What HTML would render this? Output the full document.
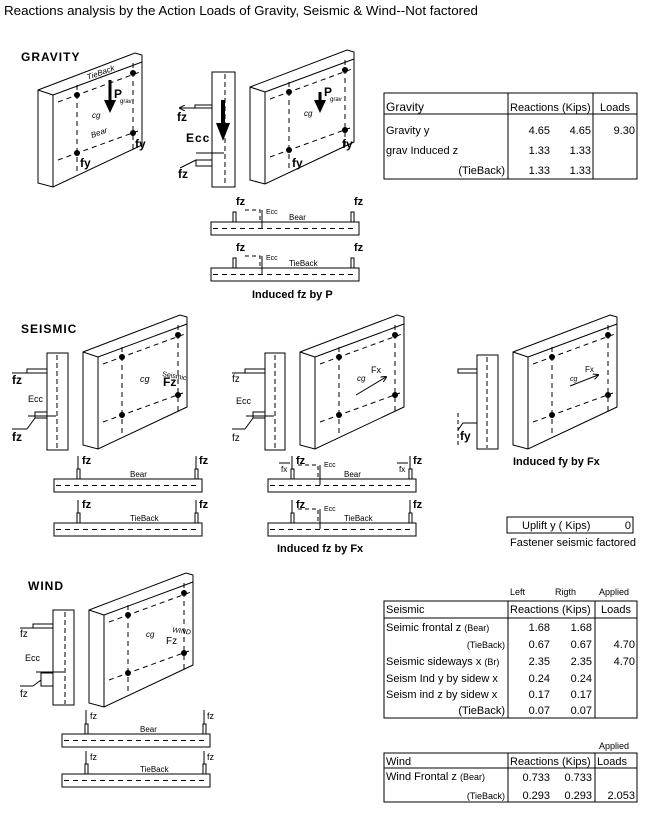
<!DOCTYPE html>
<html><head><meta charset="utf-8"><style>
html,body{margin:0;padding:0;background:#fff}
svg{display:block}
text{font-family:"Liberation Sans",Arial,sans-serif;fill:#000}
.b{font-weight:bold}
.t{font-size:11px}
</style></head><body>
<svg width="648" height="819" viewBox="0 0 648 819" xmlns="http://www.w3.org/2000/svg">
<defs>
<g id="pnl" stroke="#000" fill="none">
 <polygon points="0,37 97,0 104,2 104,92 15,134 0,130" fill="#fff"/>
 <line x1="15" y1="42" x2="104" y2="9"/>
 <line x1="0" y1="37" x2="15" y2="42"/>
 <line x1="15" y1="42" x2="15" y2="134"/>
 <g stroke-dasharray="5,4">
  <line x1="39" y1="32" x2="39" y2="118"/>
  <line x1="95" y1="10" x2="95" y2="96"/>
  <line x1="20" y1="49" x2="102" y2="19"/>
  <line x1="20" y1="107" x2="100" y2="78"/>
 </g>
 <g fill="#000" stroke="none">
  <circle cx="39" cy="42" r="3"/><circle cx="95" cy="20" r="3"/>
  <circle cx="39" cy="100" r="3"/><circle cx="95" cy="80" r="3"/>
 </g>
</g>
<g id="bar" stroke="#000" fill="none">
 <rect x="0" y="0" width="148" height="13" fill="#fff"/>
 <line x1="2" y1="6.5" x2="146" y2="6.5" stroke-dasharray="5,4"/>
</g>
<marker id="ah" markerWidth="6" markerHeight="6" refX="5" refY="3" orient="auto"><path d="M0,0 L6,3 L0,6" fill="none" stroke="#000"/></marker>
</defs>

<text x="4" y="15" font-size="13" textLength="474" lengthAdjust="spacingAndGlyphs">Reactions analysis by the Action Loads of Gravity, Seismic &amp; Wind--Not factored</text>

<!-- GRAVITY -->
<text x="21" y="61" class="b" font-size="12" letter-spacing="1">GRAVITY</text>
<use href="#pnl" x="38" y="53"/>
<text x="88" y="80" font-size="8" font-style="italic" transform="rotate(-20 88 80)">TieBack</text>
<text x="92" y="138" font-size="8" font-style="italic" transform="rotate(-20 92 138)">Bear</text>
<line x1="110" y1="80" x2="110" y2="104" stroke="#000" stroke-width="3"/>
<polygon points="104,100 116,100 110,113" fill="#000"/>
<text x="114" y="98" class="b" font-size="12">P</text><text x="120" y="103" font-size="6">grav</text>
<text x="92" y="118" font-size="8" font-style="italic">cg</text>
<text x="80" y="167" class="b" font-size="12">fy</text><text x="135" y="148" class="b" font-size="12">fy</text>

<use href="#pnl" x="250" y="50"/>
<line x1="320" y1="92" x2="320" y2="104" stroke="#000" stroke-width="3"/>
<polygon points="314,100 326,100 320,113" fill="#000"/>
<text x="324" y="96" class="b" font-size="12">P</text><text x="330" y="101" font-size="6">grav</text>
<text x="304" y="116" font-size="8" font-style="italic">cg</text>
<text x="292" y="167" class="b" font-size="12">fy</text><text x="342" y="148" class="b" font-size="12">fy</text>

<!-- gravity side -->
<rect x="212" y="72" width="23" height="115" fill="#fff" stroke="#000"/>
<line x1="225" y1="74" x2="225" y2="186" stroke="#000" stroke-dasharray="5,3"/>
<line x1="223" y1="100" x2="223" y2="126" stroke="#000" stroke-width="4"/>
<polygon points="216,123 230,123 223,141" fill="#000"/>
<polyline points="212,105 195,105 195,108 212,108" fill="none" stroke="#000"/>
<line x1="195" y1="108" x2="180" y2="108" stroke="#000" marker-end="url(#ah)"/>
<text x="177" y="121" class="b" font-size="12">fz</text>
<text x="186" y="142" class="b" font-size="12" letter-spacing="1">Ecc</text>
<line x1="196" y1="153" x2="224" y2="153" stroke="#000"/>
<polyline points="212,160 196,160 196,166 212,166" fill="none" stroke="#000"/>
<line x1="180" y1="168" x2="196" y2="160" stroke="#000"/>
<text x="178" y="178" class="b" font-size="12">fz</text>

<use href="#bar" x="211" y="222"/>
<use href="#bar" x="211" y="268"/>
<g stroke="#000" fill="none">
<rect x="233" y="212" width="3" height="10"/><rect x="351" y="212" width="3" height="10"/>
<rect x="233" y="258" width="3" height="10"/><rect x="351" y="258" width="3" height="10"/>
<polyline points="245,210 260,210 260,222" stroke-dasharray="4,3"/>
<polyline points="245,256 260,256 260,268" stroke-dasharray="4,3"/>
<line x1="262" y1="210" x2="262" y2="228"/><line x1="262" y1="256" x2="262" y2="274"/>
</g>
<text x="236" y="205" class="b" font-size="11">fz</text><text x="354" y="205" class="b" font-size="11">fz</text>
<text x="236" y="251" class="b" font-size="11">fz</text><text x="354" y="251" class="b" font-size="11">fz</text>
<text x="266" y="214" font-size="7">Ecc</text><text x="289" y="220" font-size="8">Bear</text>
<text x="266" y="260" font-size="7">Ecc</text><text x="289" y="266" font-size="8">TieBack</text>
<text x="252" y="298" class="b" font-size="11">Induced fz by P</text>

<!-- gravity table -->
<g stroke="#000" fill="none">
<rect x="384" y="93" width="253" height="86"/>
<line x1="384" y1="114" x2="637" y2="114"/>
<line x1="508" y1="93" x2="508" y2="179"/>
<line x1="593" y1="93" x2="593" y2="179"/>
</g>
<text x="386" y="111" font-size="12">Gravity</text>
<text x="510" y="111" class="t">Reactions (Kips)</text><text x="600" y="111" class="t">Loads</text>
<text x="386" y="134" class="t">Gravity y</text><text x="550" y="134" class="t" text-anchor="end">4.65</text><text x="591" y="134" class="t" text-anchor="end">4.65</text><text x="635" y="134" class="t" text-anchor="end">9.30</text>
<text x="386" y="154" class="t">grav Induced z</text><text x="550" y="154" class="t" text-anchor="end">1.33</text><text x="591" y="154" class="t" text-anchor="end">1.33</text>
<text x="505" y="174" class="t" text-anchor="end">(TieBack)</text><text x="550" y="174" class="t" text-anchor="end">1.33</text><text x="591" y="174" class="t" text-anchor="end">1.33</text>

<!-- SEISMIC -->
<text x="21" y="333" class="b" font-size="12" letter-spacing="1">SEISMIC</text>
<use href="#pnl" x="83" y="315"/>
<text x="140" y="382" font-size="9" font-style="italic">cg</text>
<text x="163" y="386" class="b" font-size="12">Fz</text>
<text x="162" y="376" font-size="7" transform="rotate(10 162 376)">Seismic</text>
<use href="#pnl" x="300" y="315"/>
<text x="357" y="381" font-size="8" font-style="italic">cg</text><text x="371" y="373" font-size="9">Fx</text>
<line x1="356" y1="395" x2="386" y2="377" stroke="#000" marker-end="url(#ah)"/>
<use href="#pnl" x="513" y="315"/>
<text x="570" y="381" font-size="7" font-style="italic">cg</text><text x="585" y="372" font-size="8">Fx</text>
<line x1="570" y1="386" x2="598" y2="375" stroke="#000" marker-end="url(#ah)"/>

<g stroke="#000" fill="none">
<rect x="47" y="353" width="21" height="97" fill="#fff"/><line x1="57" y1="355" x2="57" y2="449" stroke-dasharray="5,3"/>
<polyline points="47,369 27,369 27,373 47,373"/><line x1="27" y1="373" x2="12" y2="373"/>
<polyline points="47,412 35,412 35,418 47,418"/><line x1="28" y1="416" x2="56" y2="416"/>
<line x1="12" y1="429" x2="27" y2="429"/><line x1="27" y1="429" x2="35" y2="418"/>
<rect x="265" y="353" width="20" height="97" fill="#fff"/><line x1="275" y1="355" x2="275" y2="449" stroke-dasharray="5,3"/>
<polyline points="265,369 245,369 245,373 265,373"/><line x1="245" y1="373" x2="232" y2="373"/>
<polyline points="265,412 253,412 253,418 265,418"/><line x1="246" y1="416" x2="274" y2="416"/>
<line x1="232" y1="429" x2="245" y2="429"/><line x1="245" y1="429" x2="253" y2="418"/>
<rect x="477" y="355" width="21" height="94" fill="#fff"/><line x1="487" y1="357" x2="487" y2="448" stroke-dasharray="5,3"/>
<rect x="458" y="369" width="19" height="4"/>
<polyline points="477,423 463,423 458,430"/><line x1="458" y1="413" x2="458" y2="445" stroke-dasharray="4,3"/>
</g>
<text x="12" y="384" class="b" font-size="12">fz</text><text x="28" y="402" font-size="9">Ecc</text><text x="12" y="441" class="b" font-size="12">fz</text>
<text x="232" y="382" font-size="10">fz</text><text x="236" y="404" font-size="9">Ecc</text><text x="232" y="441" font-size="10">fz</text>
<text x="460" y="440" class="b" font-size="12">fy</text>

<use href="#bar" x="54" y="479"/><use href="#bar" x="54" y="523"/>
<use href="#bar" x="268" y="479"/><use href="#bar" x="268" y="523"/>
<g stroke="#000" fill="none">
<rect x="77" y="469" width="3" height="10"/><rect x="195" y="469" width="3" height="10"/>
<rect x="77" y="513" width="3" height="10"/><rect x="195" y="513" width="3" height="10"/>
<rect x="291" y="469" width="3" height="10"/><rect x="409" y="469" width="3" height="10"/>
<rect x="291" y="513" width="3" height="10"/><rect x="409" y="513" width="3" height="10"/>
<line x1="78" y1="456" x2="78" y2="469"/><line x1="196" y1="456" x2="196" y2="469"/>
<line x1="78" y1="500" x2="78" y2="513"/><line x1="196" y1="500" x2="196" y2="513"/>
<line x1="292" y1="456" x2="292" y2="469"/><line x1="410" y1="456" x2="410" y2="469"/>
<line x1="292" y1="500" x2="292" y2="513"/><line x1="410" y1="500" x2="410" y2="513"/>
<polyline points="298,465 318,465 318,479" stroke-dasharray="4,3"/>
<polyline points="298,509 318,509 318,523" stroke-dasharray="4,3"/>
<line x1="320" y1="465" x2="320" y2="485"/><line x1="320" y1="509" x2="320" y2="529"/>
<line x1="279" y1="463" x2="290" y2="463"/><line x1="397" y1="463" x2="408" y2="463"/>
</g>
<text x="82" y="464" class="b" font-size="11">fz</text><text x="199" y="464" class="b" font-size="11">fz</text>
<text x="82" y="508" class="b" font-size="11">fz</text><text x="199" y="508" class="b" font-size="11">fz</text>
<text x="130" y="477" font-size="8">Bear</text><text x="130" y="521" font-size="8">TieBack</text>
<text x="296" y="464" class="b" font-size="11">fz</text><text x="413" y="464" class="b" font-size="11">fz</text>
<text x="296" y="508" class="b" font-size="11">fz</text><text x="413" y="508" class="b" font-size="11">fz</text>
<text x="281" y="472" font-size="8">fx</text><text x="399" y="472" font-size="8">fx</text>
<text x="324" y="467" font-size="7">Ecc</text><text x="344" y="477" font-size="8">Bear</text>
<text x="324" y="511" font-size="7">Ecc</text><text x="344" y="521" font-size="8">TieBack</text>
<text x="277" y="552" class="b" font-size="11">Induced fz by Fx</text>
<text x="513" y="465" class="b" font-size="11">Induced fy by Fx</text>

<rect x="507" y="517" width="126" height="16" fill="none" stroke="#000"/>
<text x="522" y="529" class="t">Uplift y ( Kips)</text><text x="631" y="529" class="t" text-anchor="end">0</text>
<text x="510" y="546" class="t">Fastener seismic  factored</text>

<!-- WIND -->
<text x="28" y="590" class="b" font-size="12" letter-spacing="1">WIND</text>
<use href="#pnl" x="89" y="573"/>
<text x="146" y="637" font-size="8" font-style="italic">cg</text><text x="166" y="644" font-size="10">Fz</text>
<text x="172" y="632" font-size="7" font-style="italic" transform="rotate(8 172 632)">WIND</text>
<g stroke="#000" fill="none">
<rect x="53" y="610" width="21" height="95" fill="#fff"/><line x1="65" y1="612" x2="65" y2="704" stroke-dasharray="5,3"/>
<polyline points="53,624 33,624 33,628 53,628"/><line x1="33" y1="628" x2="20" y2="628"/>
<polyline points="53,673 41,673 41,686 53,686"/><line x1="36" y1="672" x2="64" y2="672"/>
<line x1="20" y1="686" x2="33" y2="686"/><line x1="33" y1="686" x2="41" y2="680"/>
</g>
<text x="20" y="637" font-size="10">fz</text><text x="25" y="661" font-size="9">Ecc</text><text x="20" y="697" font-size="10">fz</text>
<use href="#bar" x="62" y="734"/><use href="#bar" x="62" y="774"/>
<g stroke="#000" fill="none">
<rect x="85" y="724" width="3" height="10"/><rect x="203" y="724" width="3" height="10"/>
<rect x="85" y="764" width="3" height="10"/><rect x="203" y="764" width="3" height="10"/>
<line x1="86" y1="710" x2="86" y2="724"/><line x1="204" y1="710" x2="204" y2="724"/>
<line x1="86" y1="751" x2="86" y2="764"/><line x1="204" y1="751" x2="204" y2="764"/>
</g>
<text x="90" y="719" font-size="9">fz</text><text x="207" y="719" font-size="9">fz</text>
<text x="90" y="760" font-size="9">fz</text><text x="207" y="760" font-size="9">fz</text>
<text x="140" y="732" font-size="8">Bear</text><text x="140" y="772" font-size="8">TieBack</text>

<!-- seismic table -->
<text x="510" y="595" font-size="9">Left</text><text x="555" y="595" font-size="9">Rigth</text><text x="599" y="595" font-size="9">Applied</text>
<g stroke="#000" fill="none">
<rect x="384" y="601" width="253" height="117"/>
<line x1="384" y1="618" x2="637" y2="618"/>
<line x1="508" y1="601" x2="508" y2="718"/>
<line x1="595" y1="601" x2="595" y2="718"/>
</g>
<text x="386" y="613" class="t">Seismic</text><text x="510" y="613" class="t">Reactions (Kips)</text><text x="601" y="613" class="t">Loads</text>
<text x="386" y="631" class="t">Seimic frontal z <tspan font-size="9">(Bear)</tspan></text><text x="550" y="631" class="t" text-anchor="end">1.68</text><text x="592" y="631" class="t" text-anchor="end">1.68</text>
<text x="505" y="648" font-size="9" text-anchor="end">(TieBack)</text><text x="550" y="648" class="t" text-anchor="end">0.67</text><text x="592" y="648" class="t" text-anchor="end">0.67</text><text x="635" y="648" class="t" text-anchor="end">4.70</text>
<text x="386" y="665" class="t">Seismic sideways x <tspan font-size="9">(Br)</tspan></text><text x="550" y="665" class="t" text-anchor="end">2.35</text><text x="592" y="665" class="t" text-anchor="end">2.35</text><text x="635" y="665" class="t" text-anchor="end">4.70</text>
<text x="386" y="682" class="t">Seism Ind y by sidew x</text><text x="550" y="682" class="t" text-anchor="end">0.24</text><text x="592" y="682" class="t" text-anchor="end">0.24</text>
<text x="386" y="698" class="t">Seism ind z by sidew x</text><text x="550" y="698" class="t" text-anchor="end">0.17</text><text x="592" y="698" class="t" text-anchor="end">0.17</text>
<text x="505" y="714" class="t" text-anchor="end">(TieBack)</text><text x="550" y="714" class="t" text-anchor="end">0.07</text><text x="592" y="714" class="t" text-anchor="end">0.07</text>

<!-- wind table -->
<text x="599" y="749" font-size="9">Applied</text>
<g stroke="#000" fill="none">
<rect x="384" y="753" width="253" height="49"/>
<line x1="384" y1="768" x2="637" y2="768"/>
<line x1="508" y1="753" x2="508" y2="802"/>
<line x1="595" y1="753" x2="595" y2="802"/>
</g>
<text x="386" y="765" class="t">Wind</text><text x="510" y="765" class="t">Reactions (Kips)</text><text x="597" y="765" class="t">Loads</text>
<text x="386" y="780" class="t">Wind Frontal z <tspan font-size="9">(Bear)</tspan></text><text x="550" y="781" class="t" text-anchor="end">0.733</text><text x="592" y="781" class="t" text-anchor="end">0.733</text>
<text x="505" y="799" font-size="9" text-anchor="end">(TieBack)</text><text x="550" y="799" class="t" text-anchor="end">0.293</text><text x="592" y="799" class="t" text-anchor="end">0.293</text><text x="635" y="799" class="t" text-anchor="end">2.053</text>
</svg>
</body></html>
